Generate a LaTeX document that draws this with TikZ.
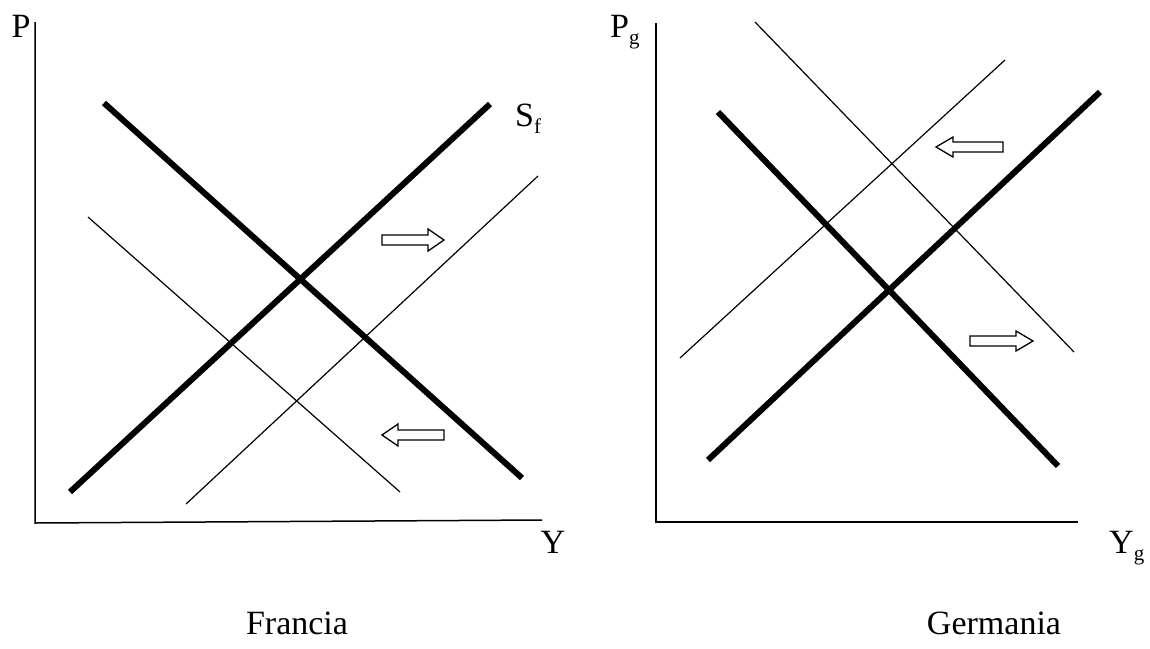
\documentclass[tikz,border=0pt]{standalone}
\usepackage{fontspec}
\setmainfont{Liberation Serif}
\newcommand{\lowsub}[1]{\raisebox{-7pt}{\fontsize{21}{24}\selectfont #1}}
\begin{document}
\begin{tikzpicture}[x=1pt,y=-1pt,
  axis/.style={line width=1.5pt},
  thickline/.style={line width=6pt},
  thinline/.style={line width=1.2pt},
  blockarrow/.style={draw, line width=1.3pt, fill=white, line join=miter},
  lbl/.style={font=\fontsize{34}{40}\selectfont, inner sep=0pt}]
\useasboundingbox (0,0) rectangle (1150,648);
% ---------- Francia ----------
\coordinate (fO) at (35,523);
\coordinate (fYtop) at (35,22);
\coordinate (fXend) at (542,520);
\draw[axis] (fYtop) -- (fO) -- (fXend);
\coordinate (fS1) at (70,492);
\coordinate (fS2) at (490,104);
\coordinate (fD1) at (104,103);
\coordinate (fD2) at (522,478);
\draw[thickline] (fS1) -- (fS2);
\draw[thickline] (fD1) -- (fD2);
\coordinate (fd1) at (88,217);
\coordinate (fd2) at (400,492);
\coordinate (fs1) at (186,504);
\coordinate (fs2) at (538,176);
\draw[thinline] (fd1) -- (fd2);
\draw[thinline] (fs1) -- (fs2);
\draw[blockarrow] (382,235) -- (428,235) -- (428,229) -- (444,240) -- (428,251) -- (428,245) -- (382,245) -- cycle;
\draw[blockarrow] (444,430) -- (398,430) -- (398,424) -- (382,435) -- (398,446) -- (398,440) -- (444,440) -- cycle;
\node[lbl, anchor=base] (fP) at (21,37) {P};
\node[lbl, anchor=base west] (fSf) at (515,126) {S\lowsub{f}};
\node[lbl, anchor=base] (fY) at (553,553) {Y};
\node[lbl, anchor=base] (fName) at (297,634) {Francia};
% ---------- Germania ----------
\coordinate (gO) at (656,522);
\coordinate (gYtop) at (656,23);
\coordinate (gXend) at (1078,522);
\draw[axis] (gYtop) -- (gO) -- (gXend);
\coordinate (gD1) at (718,112);
\coordinate (gD2) at (1058,466);
\coordinate (gS1) at (708,460);
\coordinate (gS2) at (1100,92);
\draw[thickline] (gD1) -- (gD2);
\draw[thickline] (gS1) -- (gS2);
\coordinate (gs1) at (680,358);
\coordinate (gs2) at (1005,60);
\coordinate (gd1) at (755,22);
\coordinate (gd2) at (1074,352);
\draw[thinline] (gs1) -- (gs2);
\draw[thinline] (gd1) -- (gd2);
\draw[blockarrow] (1003,142) -- (953,142) -- (953,137) -- (936,147) -- (953,157) -- (953,152) -- (1003,152) -- cycle;
\draw[blockarrow] (970,336) -- (1016,336) -- (1016,331) -- (1033,341) -- (1016,351) -- (1016,346) -- (970,346) -- cycle;
\node[lbl, anchor=base west] (gP) at (610,37) {P\lowsub{g}};
\node[lbl, anchor=base west] (gY) at (1109,553) {Y\lowsub{g}};
\node[lbl, anchor=base] (gName) at (994,634) {Germania};
\end{tikzpicture}
\end{document}
